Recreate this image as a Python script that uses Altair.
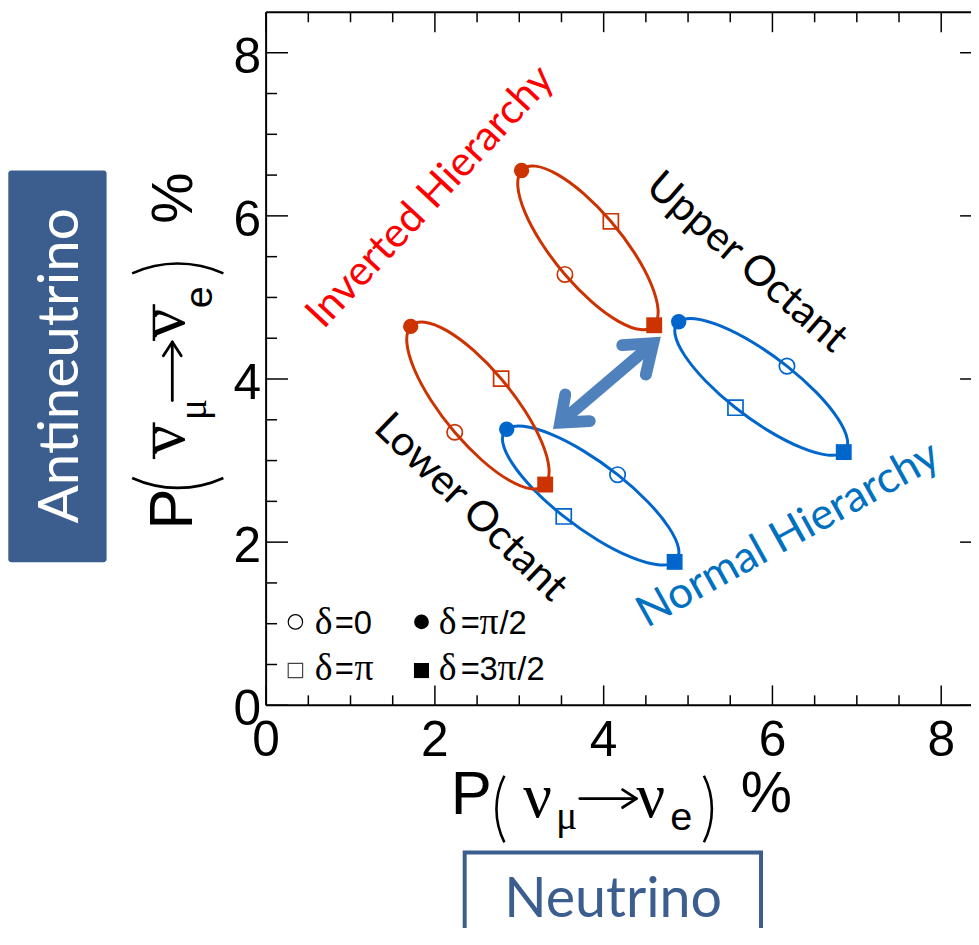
import altair as alt
import pandas as pd

# ---------------- layout constants ----------------
W, H = 710, 698            # plot area in px
PX_X, PX_Y = 85.0, 82.16   # px per unit
XMAX = W / PX_X
YMAX = H / PX_Y

# ---------------- data ----------------
# outline points of each curve (k = 0..15),
# markers sit at k = 0 (delta=0), 4 (pi/2), 8 (pi), 12 (3pi/2)
ih_up_x = [3.541, 3.261, 3.065, 2.983, 3.027, 3.191, 3.450, 3.763, 4.085, 4.365, 4.561, 4.644, 4.599, 4.435, 4.176, 3.863]
ih_up_y = [5.282, 5.670, 6.049, 6.360, 6.557, 6.610, 6.509, 6.273, 5.934, 5.546, 5.168, 4.856, 4.659, 4.606, 4.707, 4.943]
ih_lo_x = [2.235, 1.951, 1.752, 1.668, 1.713, 1.879, 2.141, 2.459, 2.785, 3.069, 3.268, 3.352, 3.307, 3.141, 2.879, 2.561]
ih_lo_y = [3.347, 3.743, 4.129, 4.446, 4.645, 4.697, 4.593, 4.350, 4.004, 3.608, 3.222, 2.905, 2.706, 2.654, 2.758, 3.001]
nh_lo_x = [4.165, 3.760, 3.368, 3.049, 2.851, 2.804, 2.917, 3.170, 3.527, 3.932, 4.324, 4.643, 4.841, 4.888, 4.775, 4.522]
nh_lo_y = [2.827, 3.119, 3.327, 3.420, 3.384, 3.224, 2.965, 2.646, 2.315, 2.023, 1.815, 1.722, 1.758, 1.918, 2.177, 2.496]
nh_up_x = [6.172, 5.774, 5.391, 5.080, 4.889, 4.847, 4.960, 5.211, 5.562, 5.960, 6.343, 6.654, 6.845, 6.887, 6.774, 6.523]
nh_up_y = [4.158, 4.445, 4.648, 4.739, 4.702, 4.544, 4.288, 3.973, 3.648, 3.361, 3.158, 3.067, 3.104, 3.262, 3.518, 3.833]

# double arrow (shaft + two heads)
shaft_x = [3.485, 4.587]
shaft_y = [3.466, 4.439]
head_up_x = [4.220, 4.587, 4.500]
head_up_y = [4.415, 4.439, 4.055]
head_lo_x = [3.545, 3.485, 3.835]
head_lo_y = [3.810, 3.466, 3.484]

# annotations
ann_text = ["Inverted Hierarchy", "Upper Octant", "Lower Octant", "Normal Hierarchy"]
ann_x = [1.945, 5.698, 2.427, 6.190]
ann_y = [6.235, 5.432, 2.426, 2.090]

# axes
major_ticks = [0, 2, 4, 6, 8]
major_labels = ["0", "2", "4", "6", "8"]
minor_ticks = [0.5, 1, 1.5, 2.5, 3, 3.5, 4.5, 5, 5.5, 6.5, 7, 7.5]

RED, BLUE = "#CC3300", "#0066CC"
BOX = "#3B5E8F"

rows = []
for curve, hier, cx, cy in [("IH upper", "Inverted", ih_up_x, ih_up_y),
                            ("IH lower", "Inverted", ih_lo_x, ih_lo_y),
                            ("NH lower", "Normal", nh_lo_x, nh_lo_y),
                            ("NH upper", "Normal", nh_up_x, nh_up_y)]:
    for k, (a, b) in enumerate(zip(cx, cy)):
        rows.append(dict(curve=curve, hier=hier, k=k, x=a, y=b))
df = pd.DataFrame(rows)
mk = df[df.k % 4 == 0].copy()
mk["delta"] = mk.k // 4

xsc = alt.Scale(domain=[0, XMAX], nice=False, zero=False)
ysc = alt.Scale(domain=[0, YMAX], nice=False, zero=False)
ex = alt.X("x:Q", scale=xsc, axis=None)
ey = alt.Y("y:Q", scale=ysc, axis=None)
col = alt.Color("hier:N", scale=alt.Scale(domain=["Inverted", "Normal"], range=[RED, BLUE]), legend=None)
col_sq = alt.Color("hier:N", scale=alt.Scale(domain=["Inverted", "Normal"], range=["#DD5A36", "#3D8BDB"]), legend=None)

dummy = pd.DataFrame({"a": [0]})
layers = []


def ptext(text, px, py, size, font, color="black", angle=0, align="left", baseline="alphabetic"):
    kw = dict(text=text, fontSize=size, font=font, color=color, align=align, baseline=baseline)
    if angle:
        kw["angle"] = angle
    return alt.Chart(dummy).mark_text(**kw).encode(x=alt.value(px), y=alt.value(py))


def arc(cx, cy, r, t1, t2):
    return alt.Chart(dummy).mark_arc(innerRadius=r - 1.3, outerRadius=r + 1.3, theta=t1, theta2=t2,
                                     color="black").encode(x=alt.value(cx), y=alt.value(cy))


def seg(x1, y1, x2, y2, w=2.8):
    return alt.Chart(dummy).mark_rule(strokeWidth=w, color="black", strokeCap="round").encode(
        x=alt.value(x1), y=alt.value(y1), x2=alt.value(x2), y2=alt.value(y2))


# curves (blue below red)
for hier, c in [("Normal", BLUE), ("Inverted", RED)]:
    layers.append(alt.Chart(df[df.hier == hier]).mark_line(
        interpolate="cardinal-closed", strokeWidth=3, color=c).encode(
        x=ex, y=ey, detail="curve:N", order="k:Q"))

# arrow
ARROW = "#4F81BD"
layers.append(alt.Chart(pd.DataFrame({"x": shaft_x, "y": shaft_y, "o": [0, 1]})).mark_line(
    strokeWidth=12, color=ARROW, strokeCap="butt").encode(x=ex, y=ey, order="o:Q"))
for hx, hy in [(head_up_x, head_up_y), (head_lo_x, head_lo_y)]:
    layers.append(alt.Chart(pd.DataFrame({"x": hx, "y": hy, "o": [0, 1, 2]})).mark_line(
        strokeWidth=12, color=ARROW, strokeCap="round", strokeJoin="miter").encode(x=ex, y=ey, order="o:Q"))

# markers
layers.append(alt.Chart(mk[mk.delta == 0]).mark_point(shape="circle", filled=False, size=240,
              strokeWidth=1.7, opacity=1).encode(x=ex, y=ey, color=col))
layers.append(alt.Chart(mk[mk.delta == 2]).mark_point(shape="square", filled=False, size=230,
              strokeWidth=1.7, opacity=1).encode(x=ex, y=ey, color=col_sq))
layers.append(alt.Chart(mk[mk.delta == 1]).mark_circle(size=240, opacity=1).encode(x=ex, y=ey, color=col))
layers.append(alt.Chart(mk[mk.delta == 3]).mark_square(size=256, opacity=1).encode(x=ex, y=ey, color=col))

# annotations
ann_style = [(313, "#FF0000", 42), (41, "black", 42), (44, "black", 42), (331, "#0070C0", 44)]
for i, (ang, c, fs) in enumerate(ann_style):
    layers.append(alt.Chart(pd.DataFrame({"x": [ann_x[i]], "y": [ann_y[i]], "t": [ann_text[i]]})).mark_text(
        font="Lato", fontSize=fs, angle=ang, color=c, align="center", baseline="middle").encode(
        x=ex, y=ey, text="t:N"))

# frame
layers.append(alt.Chart(dummy).mark_rule(strokeWidth=2, color="black").encode(
    x=alt.value(0), y=alt.value(0), y2=alt.value(H)))
layers.append(alt.Chart(dummy).mark_rule(strokeWidth=2, color="black").encode(
    x=alt.value(0), x2=alt.value(W + 2), y=alt.value(0)))
layers.append(alt.Chart(dummy).mark_rule(strokeWidth=2, color="black").encode(
    x=alt.value(0), x2=alt.value(W + 2), y=alt.value(H)))

# ticks (inward)
tmaj = pd.DataFrame({"v": major_ticks, "t": major_labels})
tmin = pd.DataFrame({"v": minor_ticks})
tx = alt.X("v:Q", scale=xsc, axis=None)
ty = alt.Y("v:Q", scale=ysc, axis=None)
for d, ln in [(tmaj, 20), (tmin, 10)]:
    layers.append(alt.Chart(d).mark_rule(strokeWidth=1.5, color="black").encode(
        x=tx, y=alt.value(H), y2=alt.value(H - ln)))
    layers.append(alt.Chart(d).mark_rule(strokeWidth=1.5, color="black").encode(
        x=tx, y=alt.value(0), y2=alt.value(ln)))
for d, ln in [(tmaj, 22), (tmin, 11)]:
    layers.append(alt.Chart(d).mark_rule(strokeWidth=1.5, color="black").encode(
        y=ty, x=alt.value(0), x2=alt.value(ln)))
layers.append(alt.Chart(tmaj).mark_rule(strokeWidth=1.5, color="black").encode(
    y=ty, x=alt.value(W - 11), x2=alt.value(W)))

# tick labels
layers.append(alt.Chart(tmaj).mark_text(font="Liberation Sans", fontSize=50, align="center",
              baseline="top").encode(x=tx, y=alt.value(H + 11), text="t:N"))
layers.append(alt.Chart(tmaj).mark_text(font="Liberation Sans", fontSize=50, align="right",
              baseline="middle", dy=5).encode(y=ty, x=alt.value(-5), text="t:N"))

# legend (inside plot, bottom-left)
layers.append(alt.Chart(dummy).mark_point(shape="circle", filled=False, size=210, strokeWidth=1.2,
              color="black", opacity=1).encode(x=alt.value(29.5), y=alt.value(614)))
layers.append(alt.Chart(dummy).mark_circle(size=220, color="black", opacity=1).encode(
    x=alt.value(156.5), y=alt.value(614)))
layers.append(alt.Chart(dummy).mark_point(shape="square", filled=False, size=210, strokeWidth=1.2,
              color="#444444", opacity=1).encode(x=alt.value(29.5), y=alt.value(663)))
layers.append(alt.Chart(dummy).mark_square(size=230, color="black", opacity=1).encode(
    x=alt.value(156.5), y=alt.value(663)))
SER, SAN = "Liberation Serif", "Liberation Sans"
leg_pieces = [
    ("δ", 49, 626, SER), ("=0", 69, 626, SAN),
    ("δ", 174, 626, SER), ("=", 196, 626, SAN), ("π", 215, 626, SER), ("/2", 235, 626, SAN),
    ("δ", 49, 673, SER), ("=", 69, 673, SAN), ("π", 89, 673, SER),
    ("δ", 174, 673, SER), ("=", 196, 673, SAN), ("3", 215, 673, SAN), ("π", 233, 673, SER), ("/2", 253, 673, SAN),
]
for t, px, py, f in leg_pieces:
    layers.append(ptext(t, px, py, 38 if f == SER else 33, f))

# x-axis title  P( ν_μ → ν_e ) %
layers.append(ptext("P", 186, 808, 62, SAN))
layers.append(arc(306.1, 802.5, 74.1, 4.243, 5.182))
layers.append(ptext("ν", 259, 811, 64, SER))
layers.append(ptext("μ", 292, 823, 40, SER))
layers.append(seg(316, 792, 371, 792))
layers.append(seg(373, 792, 359, 783))
layers.append(seg(373, 792, 359, 801))
layers.append(ptext("ν", 373, 811, 64, SER))
layers.append(ptext("e", 407, 824, 40, SAN))
layers.append(arc(374.9, 802.5, 74.1, 1.101, 2.040))
layers.append(ptext("%", 478, 806, 58, SAN))

# y-axis title (rotated)  P( ν̄_μ → ν̄_e ) %
layers.append(ptext("P", -75, 521, 62, SAN, angle=270))
layers.append(arc(-89, 368.2, 110.8, 2.714, 3.569))
layers.append(ptext("ν", -83, 445, 64, SER, angle=270))
layers.append(alt.Chart(dummy).mark_rule(strokeWidth=2.5, color="black").encode(
    x=alt.value(-113), y=alt.value(413), y2=alt.value(450)))
layers.append(ptext("μ", -61, 411, 40, SER, angle=270))
layers.append(seg(-94.5, 391, -94.5, 334))
layers.append(seg(-94.5, 332, -103.5, 346))
layers.append(seg(-94.5, 332, -85.5, 346))
layers.append(ptext("ν", -83, 327.5, 64, SER, angle=270))
layers.append(alt.Chart(dummy).mark_rule(strokeWidth=2.5, color="black").encode(
    x=alt.value(-113), y=alt.value(294), y2=alt.value(331)))
layers.append(ptext("e", -55, 298, 40, SAN, angle=270))
layers.append(arc(-89, 363.8, 110.8, 5.8556, 6.7108))
layers.append(ptext("%", -75, 213, 58, SAN, angle=270))

# side boxes
layers.append(alt.Chart(dummy).mark_rect(color=BOX, cornerRadius=3).encode(
    x=alt.value(-259.7), x2=alt.value(-160.7), y=alt.value(159.4), y2=alt.value(554)))
layers.append(ptext("Antineutrino", -189.7, 356, 57, "Lato", color="white", angle=270, align="center"))
layers.append(alt.Chart(dummy).mark_rect(fill="white", stroke=BOX, strokeWidth=4).encode(
    x=alt.value(200), x2=alt.value(498.5), y=alt.value(846.3), y2=alt.value(1000)))
layers.append(ptext("Neutrino", 349.5, 911, 56, "Lato", color=BOX, align="center"))

chart = alt.layer(*layers).properties(
    width=W, height=H,
    autosize=alt.AutoSizeParams(type="none"),
    padding={"left": 260, "top": 1, "right": 0, "bottom": 221},
).configure_view(stroke=None)

chart.save("out.html", embed_options={"renderer": "svg", "actions": False})
